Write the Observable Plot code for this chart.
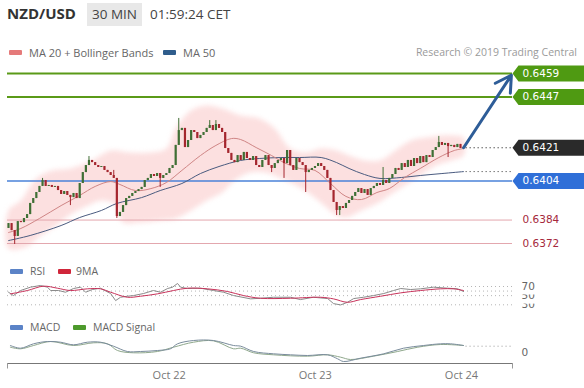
<!DOCTYPE html>
<html><head><meta charset="utf-8">
<script src="https://cdn.jsdelivr.net/npm/d3@7"></script>
<script src="https://cdn.jsdelivr.net/npm/@observablehq/plot@0.6"></script>
<style>
html,body{margin:0;padding:0;background:#fff;}
#wrap{position:relative;width:584px;height:388px;overflow:hidden;font-family:"Open Sans",sans-serif;background:#fff;}
.a{position:absolute;white-space:nowrap;line-height:1;}
.sw{position:absolute;width:13px;height:5px;border-radius:1px;}
.lg{font-size:11px;color:#666;}
.lg2{font-size:10.5px;color:#666;}
#title{left:7px;top:6px;font-size:15px;font-weight:700;color:#333;}
#tf{left:87px;top:3px;width:55px;height:23px;line-height:23px;background:#e8e8e8;text-align:center;font-size:13.5px;color:#444;}
#clock{left:150px;top:3px;line-height:23px;font-size:13.5px;color:#444;}
#research{right:7px;top:47px;font-size:10.5px;color:#9a9a9a;}
.panel{position:absolute;left:0;}
</style></head>
<body><div id="wrap">
<div class="a" id="title">NZD/USD</div>
<div class="a" id="tf">30 MIN</div>
<div class="a" id="clock">01:59:24 CET</div>
<div class="sw" style="left:9px;top:50px;background:#e57a7a"></div>
<div class="a lg" style="left:29px;top:47px">MA 20 + Bollinger Bands</div>
<div class="sw" style="left:163px;top:50px;background:#2f5d8c"></div>
<div class="a lg" style="left:183px;top:47px">MA 50</div>
<div class="a" id="research">Research © 2019 Trading Central</div>
<div class="panel" id="main" style="top:60px"></div>
<div class="sw" style="left:10px;top:269px;background:#5b83c7"></div>
<div class="a lg2" style="left:30px;top:266px">RSI</div>
<div class="sw" style="left:58px;top:269px;background:#d0263a"></div>
<div class="a lg2" style="left:76px;top:266px">9MA</div>
<div class="panel" id="rsi" style="top:278px"></div>
<div class="sw" style="left:10px;top:325px;background:#5b83c7"></div>
<div class="a lg2" style="left:30px;top:322px">MACD</div>
<div class="sw" style="left:73px;top:325px;background:#4d9a2c"></div>
<div class="a lg2" style="left:93px;top:322px">MACD Signal</div>
<div class="panel" id="macd" style="top:336px"></div>
</div>
<script>
// ---------- DATA ----------
const firstOpen = 0.63797;
const closes = [
 0.63822,0.63786,0.63756,0.63832,0.63827,0.63848,0.63868,0.63925,0.63950,0.63981,
 0.64012,0.64042,0.64012,0.64017,0.64007,0.64012,0.63991,0.63971,0.63986,0.63966,
 0.63955,0.63976,0.63950,0.64027,0.64083,0.64119,0.64145,0.64134,0.64119,0.64109,
 0.64114,0.64094,0.64083,0.64068,0.64053,0.63858,0.63879,0.63914,0.63950,0.63961,
 0.63976,0.63986,0.63996,0.64007,0.64042,0.64053,0.64073,0.64063,0.64078,0.64053,
 0.64068,0.64078,0.64104,0.64119,0.64222,0.64298,0.64309,0.64211,0.64247,0.64298,
 0.64288,0.64257,0.64273,0.64288,0.64309,0.64324,0.64298,0.64329,0.64309,0.64288,
 0.64206,0.64181,0.64145,0.64134,0.64170,0.64145,0.64186,0.64155,0.64145,0.64165,
 0.64119,0.64109,0.64145,0.64170,0.64119,0.64104,0.64129,0.64145,0.64155,0.64129,
 0.64196,0.64119,0.64094,0.64155,0.64134,0.64119,0.64083,0.64094,0.64104,0.64114,
 0.64129,0.64114,0.64094,0.64053,0.63991,0.63930,0.63889,0.63909,0.63899,0.63925,
 0.63940,0.63961,0.63981,0.64001,0.63976,0.63996,0.63966,0.64001,0.64012,0.64027,
 0.64017,0.64042,0.64027,0.64053,0.64073,0.64104,0.64094,0.64129,0.64109,0.64145,
 0.64114,0.64155,0.64129,0.64165,0.64134,0.64170,0.64160,0.64196,0.64211,0.64237,
 0.64222,0.64232,0.64216,0.64222,0.64211,0.64227,0.64206,0.64211];
const highIdx = [11,26,34,55,65,67,121,139];
const highVal = [0.64053,0.64165,0.64094,0.64360,0.64349,0.64349,0.64109,0.64268];
const lowIdx = [2,20,35,49,85,89,96,106,107,142];
const lowVal = [0.63715,0.63914,0.63848,0.64007,0.64083,0.64053,0.63981,0.63863,0.63863,0.64160];

const upIdx = [0,4,9,14,20,27,33,39,46,51,54,59,64,69,75,81,86,91,96,101,106,110,115,120,125,130,135,140,144,147];
const upVal = [0.63889,0.63940,0.64053,0.64094,0.64104,0.64145,0.64196,0.64186,0.64186,0.64206,0.64309,0.64401,0.64426,0.64411,0.64375,0.64360,0.64309,0.64206,0.64186,0.64206,0.64196,0.64170,0.64145,0.64145,0.64196,0.64247,0.64262,0.64273,0.64273,0.64262];
const loIdx = [0,6,10,15,20,25,30,34,37,42,49,54,59,64,69,73,78,83,88,93,98,102,106,109,114,119,123,128,133,138,143,147];
const loVal = [0.63694,0.63705,0.63756,0.63807,0.63868,0.63909,0.63940,0.63925,0.63827,0.63827,0.63838,0.63848,0.63889,0.63940,0.63981,0.64042,0.64083,0.64083,0.64053,0.64017,0.63966,0.63914,0.63863,0.63853,0.63889,0.63925,0.63966,0.64017,0.64068,0.64119,0.64145,0.64170];
const ma20Idx = [0,4,10,17,23,28,33,36,41,46,51,56,62,67,72,75,80,85,89,94,99,104,109,114,119,123,128,133,139,144,147];
const ma20Val = [0.63776,0.63797,0.63848,0.63914,0.63966,0.64012,0.64037,0.64022,0.63991,0.64001,0.64032,0.64094,0.64170,0.64222,0.64257,0.64252,0.64211,0.64170,0.64134,0.64104,0.64094,0.64027,0.63961,0.63945,0.63981,0.64001,0.64058,0.64104,0.64160,0.64196,0.64206];
const ma50Idx = [0,7,17,23,30,35,43,49,56,62,68,75,81,88,94,101,106,110,115,120,127,133,140,147];
const ma50Val = [0.63735,0.63761,0.63812,0.63853,0.63889,0.63925,0.63955,0.63991,0.64027,0.64078,0.64114,0.64145,0.64155,0.64160,0.64160,0.64160,0.64134,0.64104,0.64073,0.64053,0.64058,0.64068,0.64078,0.64088];

const levelsGreen = [0.6459, 0.6447];
const lastPrice = 0.6421;
const levelBlue = 0.6404;
const levelsRed = [0.6384, 0.6372];

const rsiIdx = [0,1.6,3.9,7.1,10.3,12.6,13.6,16.2,18.4,21,23.3,24.9,27.1,29.7,33,34.6,36.2,38.4,40.4,43.6,46.8,49.1,51.4,53,54.6,55.6,57.8,62,66.2,69.5,72.7,78.2,81.4,85.6,91.1,94.3,98.5,103.1,105,107.3,109.5,111.5,114.7,117.9,121.2,124.4,126.7,129.9,133.1,137.3,141.8,145.1,147];
const rsiVal = [57.5,50.2,61.2,68.5,72.2,68.5,61.2,61.2,57.5,65.6,68.5,57.5,63.4,66.3,54.6,39.2,46.5,48.7,50.2,54.6,61.2,57.5,65.6,68.5,76.6,68.5,65.6,66.3,61.2,57.5,50.2,43,44.3,46.5,46.5,41.4,46.5,43.6,32.6,29.7,35.5,43.6,46.5,50.2,54.6,61.2,65.6,63.4,64.9,68.5,66.3,64.9,59];
const ma9Idx = [0.6,6.1,11.3,15.8,20,25.5,29.7,33,38.4,42.6,48.1,53.3,57.8,64.3,70.8,75.9,81.4,91.1,100.8,105,109.5,113.7,120.2,126.7,133.1,139.6,143.8,147];
const ma9Val = [53.9,61.2,70.7,66.3,61.2,64.9,64.9,57.5,46.5,48.7,53.9,61.2,66.3,64.9,59,50.2,44.3,44.3,46.5,42.9,35.5,41.4,48.7,56.1,61.2,64.9,64.9,61.2];
const rsiLevels = [30, 50, 60, 70];
const rsiLabels = [30, 50, 70];

const macdIdx = [0.6,3.9,8.1,12.6,16.8,21,25.5,29.7,33.9,38.4,42.6,48.1,52.3,54.6,59.8,66.2,72.7,75,79.2,85.6,91.1,96.6,103.1,106.3,108.2,113.7,121.2,127.6,134.1,139.6,142.8,147];
const macdVal = [0.35,-1,1.2,2.35,2,0.7,2,2,0,-2.65,-2.65,-2.15,-1.3,1.2,2.85,2.85,0.35,0,-2.65,-3.8,-4.3,-4.65,-4.3,-6.3,-7.65,-6,-3.8,-1,0.35,1.2,1.2,0.35];
const sigIdx = [0.6,3.9,8.1,13.6,21,27.5,32,35.2,40.4,48.1,53.3,59.8,66.2,72.7,75,79.2,85.6,96.6,103.1,107.3,110.5,117.9,125.7,132.2,139.6,147];
const sigVal = [-0.5,-1.3,0.35,2.35,0.35,1.7,1.2,-2.15,-3.3,-2.65,-0.5,2,2.7,-1.3,-1,-3.3,-4.3,-5,-4.3,-5.5,-6.65,-5,-2.65,-0.5,0.85,0.35];

const dayTicks = [51.9, 99.1, 146.3];
const dayLabels = ["Oct 22", "Oct 23", "Oct 24"];

// ---------- BUILD ----------
const xDomain = [-0.32, 162.8], xRange = [7, 512];
const GREEN = "#3f6f35", RED = "#a4262e", BAND = "#fce0e0";
const pts = (ix, v) => ix.map((i, k) => ({i, v: v[k]}));

const candles = closes.map((c, i) => {
  const open = i === 0 ? firstOpen : closes[i - 1];
  return {i, open, close: c, up: c >= open, top: Math.max(open, c), bot: Math.min(open, c)};
});
candles.forEach(d => { d.hi = d.top; d.lo = d.bot; });
highIdx.forEach((k, j) => candles[k].hi = highVal[j]);
lowIdx.forEach((k, j) => candles[k].lo = lowVal[j]);

const bandPoly = pts(upIdx, upVal).concat(pts(loIdx, loVal).reverse());
const ma20 = pts(ma20Idx, ma20Val), ma50 = pts(ma50Idx, ma50Val);
const lastIdx = closes.length - 1;

const tagShape = {draw(ctx) { ctx.moveTo(0, 0); ctx.lineTo(6, -8); ctx.lineTo(72, -8); ctx.lineTo(72, 8); ctx.lineTo(6, 8); ctx.closePath(); }};
const boxShape = {draw(ctx) { ctx.moveTo(7, -6); ctx.lineTo(30, -6); ctx.lineTo(30, 8); ctx.lineTo(7, 8); ctx.closePath(); }};

const tags = [
  {v: levelsGreen[0], bg: "#4f9a12", fg: "#fff"},
  {v: levelsGreen[1], bg: "#4f9a12", fg: "#fff"},
  {v: lastPrice, bg: "#2a2a2a", fg: "#fff"},
  {v: levelBlue, bg: "#2f6fd8", fg: "#fff"},
  {v: levelsRed[0], bg: null, fg: "#a5283c"},
  {v: levelsRed[1], bg: null, fg: "#a5283c"}
];

const xs = {domain: xDomain, range: xRange, axis: null};
const baseStyle = {background: "transparent", overflow: "visible"};

const main = Plot.plot({
  width: 584, height: 205, marginLeft: 7, marginRight: 72, marginTop: 0, marginBottom: 0,
  x: xs, y: {domain: [0.6372, 0.6459], range: [183, 13], axis: null},
  style: baseStyle,
  marks: [
    Plot.line(bandPoly, {x: "i", y: "v", fill: BAND, stroke: "none", curve: "catmull-rom-closed"}),
    Plot.ruleY(levelsRed, {stroke: "#e3a7ae", strokeWidth: 1}),
    Plot.ruleY([levelBlue], {stroke: "#4a82d8", strokeWidth: 1.6}),
    Plot.ruleY(levelsGreen, {stroke: "#5a9a18", strokeWidth: 2}),
    Plot.line(ma50, {x: "i", y: "v", stroke: "#4a5b7f", strokeWidth: 1, curve: "catmull-rom"}),
    Plot.line(ma20, {x: "i", y: "v", stroke: "#cf8585", strokeWidth: 1, curve: "catmull-rom"}),
    Plot.ruleX(candles.filter(d => d.up), {x: "i", y1: "lo", y2: "hi", stroke: GREEN, strokeWidth: 1}),
    Plot.ruleX(candles.filter(d => !d.up), {x: "i", y1: "lo", y2: "hi", stroke: RED, strokeWidth: 1}),
    Plot.ruleX(candles.filter(d => d.up), {x: "i", y1: "bot", y2: "top", stroke: GREEN, strokeWidth: 2.2}),
    Plot.ruleX(candles.filter(d => !d.up), {x: "i", y1: "bot", y2: "top", stroke: RED, strokeWidth: 2.2}),
    Plot.ruleY([lastPrice], {x1: lastIdx + 0.8, x2: xDomain[1], stroke: "#333", strokeDasharray: "1.2,2.8"}),
    Plot.ruleY([ma50Val[ma50Val.length - 1]], {x1: lastIdx + 0.8, x2: xDomain[1], stroke: "#555", strokeDasharray: "1.2,2.8"}),
    Plot.arrow([{x1: lastIdx, y1: lastPrice, x2: xDomain[1], y2: levelsGreen[0]}],
      {x1: "x1", y1: "y1", x2: "x2", y2: "y2", stroke: "#2e5d98", strokeWidth: 3, headLength: 9, insetEnd: 2}),
    ...tags.filter(t => t.bg).map(t => Plot.dot([t], {y: "v", frameAnchor: "right", symbol: tagShape, fill: t.bg, stroke: "none"})),
    ...tags.map(t => Plot.text([t], {y: "v", text: d => d.v.toFixed(4), frameAnchor: "right", dx: 10, textAnchor: "start",
      fill: t.fg, fontSize: 10.5, fontFamily: "DejaVu Sans"}))
  ]
});
d3.select(main).selectAll(`g[fill="${BAND}"], path[fill="${BAND}"]`).style("filter", "blur(2.5px)");
document.getElementById("main").appendChild(main);

const rsiMarks = [
  Plot.ruleY(rsiLevels, {stroke: "#b5b5b5", strokeDasharray: "1,3"}),
  Plot.line(pts(rsiIdx, rsiVal), {x: "i", y: "v", stroke: "#8a8a8a", strokeWidth: 1}),
  Plot.line(pts(ma9Idx, ma9Val), {x: "i", y: "v", stroke: "#c8325a", strokeWidth: 1, curve: "catmull-rom"})
];
rsiLabels.forEach(v => {
  rsiMarks.push(Plot.dot([v], {y: d => d, frameAnchor: "right", symbol: boxShape, fill: "white", stroke: "none"}));
  rsiMarks.push(Plot.text([v], {y: d => d, text: d => String(d), frameAnchor: "right", dx: 9, textAnchor: "start",
    fill: "#666", fontSize: 10.5, fontFamily: "DejaVu Sans"}));
});
const rsi = Plot.plot({
  width: 584, height: 34, marginLeft: 7, marginRight: 72, marginTop: 0, marginBottom: 0,
  x: xs, y: {domain: [30, 70], range: [26.3, 8], axis: null},
  style: baseStyle, marks: rsiMarks
});
document.getElementById("rsi").appendChild(rsi);

const macd = Plot.plot({
  width: 584, height: 52, marginLeft: 7, marginRight: 72, marginTop: 0, marginBottom: 25,
  x: {domain: xDomain, range: xRange, ticks: dayTicks, tickFormat: d => dayLabels[dayTicks.indexOf(d)],
      tickSize: 0, tickPadding: 8, line: true, label: null},
  y: {domain: [-10, 5], range: [29.7, -0.3], axis: null},
  style: {...baseStyle, fontFamily: "Open Sans", fontSize: "11px", color: "#777"},
  marks: [
    Plot.ruleY([0], {x1: lastIdx + 0.8, x2: xDomain[1], stroke: "#999", strokeDasharray: "1,3"}),
    Plot.line(pts(sigIdx, sigVal), {x: "i", y: "v", stroke: "#8fa88c", strokeWidth: 1, curve: "catmull-rom"}),
    Plot.line(pts(macdIdx, macdVal), {x: "i", y: "v", stroke: "#7a8c9c", strokeWidth: 1, curve: "catmull-rom"}),
    Plot.ruleX(xDomain, {y1: -8.65, y2: -11.4, stroke: "#999"}),
    Plot.text([0], {y: d => d, text: d => String(d), frameAnchor: "right", dx: 9, dy: 6, textAnchor: "start",
      fill: "#666", fontSize: 10.5, fontFamily: "DejaVu Sans"})
  ]
});
document.getElementById("macd").appendChild(macd);
</script>
</body></html>
